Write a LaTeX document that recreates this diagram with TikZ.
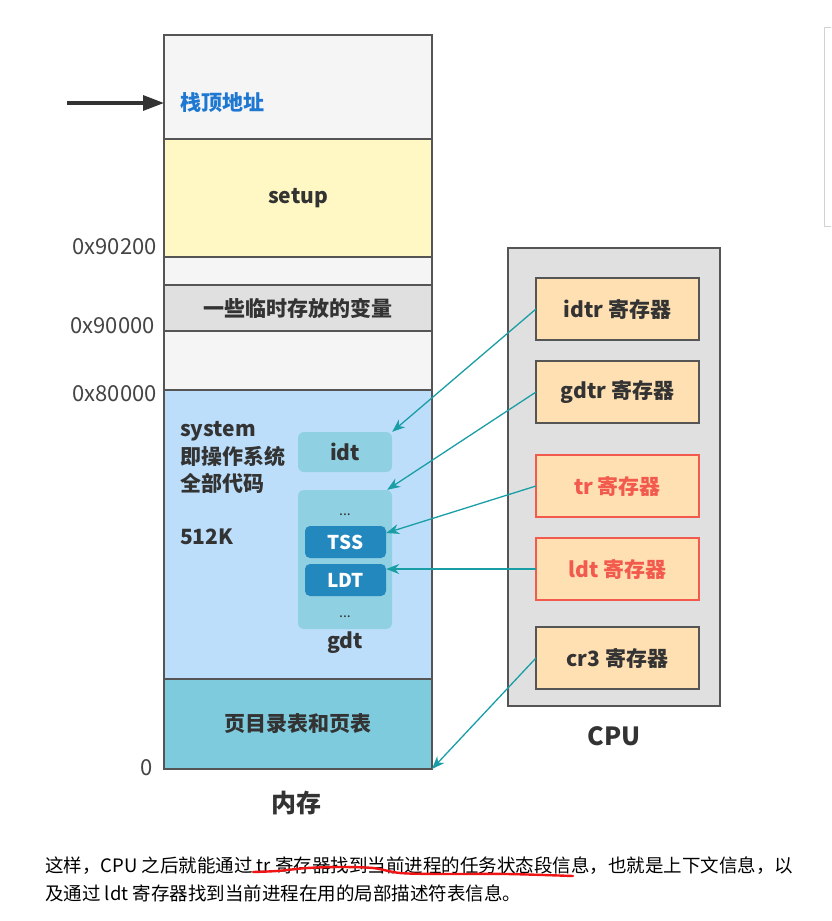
\documentclass[tikz,border=0pt]{standalone}
\usepackage{fontspec}
\setmainfont{Noto Sans CJK SC}
\usetikzlibrary{arrows.meta}
\definecolor{linegray}{HTML}{555555}
\definecolor{txtgray}{HTML}{333333}
\definecolor{addrgray}{HTML}{444444}
\definecolor{stackfill}{HTML}{F5F5F5}
\definecolor{setupfill}{HTML}{FFF8C4}
\definecolor{tempfill}{HTML}{E0E0E0}
\definecolor{sysfill}{HTML}{BCDEFA}
\definecolor{pagefill}{HTML}{7ECBDE}
\definecolor{tblfill}{HTML}{8FD0E3}
\definecolor{entblue}{HTML}{2388BD}
\definecolor{regfill}{HTML}{FFE0B2}
\definecolor{regred}{HTML}{F25A4E}
\definecolor{linkteal}{HTML}{1A9EA6}
\definecolor{spblue}{HTML}{1E78D2}
\definecolor{marker}{HTML}{F01414}
\tikzset{
  mem/.style={draw=linegray, line width=1.5pt, minimum width=268pt, inner sep=0pt, outer sep=0pt,
    font=\bfseries\fontsize{21}{25}\selectfont, text=txtgray},
  reg/.style={draw=linegray, line width=1.5pt, fill=regfill, minimum width=163pt, minimum height=62pt,
    inner sep=0pt, outer sep=0pt, font=\bfseries\fontsize{21}{25}\selectfont, text=txtgray},
  redreg/.style={reg, draw=regred, text=regred},
  tbl/.style={fill=tblfill, rounded corners=6pt, minimum width=94pt, inner sep=0pt},
  ent/.style={fill=entblue, rounded corners=5pt, minimum width=81pt, minimum height=32pt, inner sep=0pt,
    text=white, font=\bfseries\fontsize{19}{23}\selectfont},
  lbl/.style={font=\bfseries\fontsize{21}{25}\selectfont, text=txtgray, inner sep=0pt},
  addr/.style={anchor=east, font=\fontsize{22}{26}\selectfont, text=addrgray, inner sep=0pt},
  link/.style={-{Stealth[length=13pt,width=10pt]}, draw=linkteal, line width=1.3pt},
}
\begin{document}
\begin{tikzpicture}[x=1pt,y=-1pt]
\useasboundingbox[fill=white] (0,0) rectangle (831,921);
% memory column
\node[mem, fill=stackfill, minimum height=104pt] (stack) at (298,87) {};
\node[mem, fill=setupfill, minimum height=118pt] (setup) at (298,198) {setup};
\node[mem, fill=stackfill, minimum height=28pt] (gapa) at (298,271) {};
\node[mem, fill=tempfill, minimum height=46pt] (temp) at (298,308) {一些临时存放的变量};
\node[mem, fill=stackfill, minimum height=59pt] (gapb) at (298,360.5) {};
\node[mem, fill=sysfill, minimum height=289pt] (sys) at (298,534.5) {};
\node[mem, fill=pagefill, minimum height=90pt] (page) at (298,724) {页目录表和页表};
\node[lbl, text=spblue, anchor=west] (sptext) at (180,103) {栈顶地址};
\node[lbl, anchor=west, align=left, font=\bfseries\fontsize{21}{27.5}\selectfont] (systext) at (180,457.5)
  {system\\即操作系统\\全部代码};
\node[lbl, anchor=west] (size) at (180,537) {512K};
\node[lbl, font=\bfseries\fontsize{25}{30}\selectfont] (memname) at (296,803) {内存};
% addresses
\node[addr] (a90200) at (157,247) {0x90200};
\node[addr] (a90000) at (155,326) {0x90000};
\node[addr] (a80000) at (157,394) {0x80000};
\node[addr] (azero) at (153,768) {0};
% descriptor tables
\node[tbl, minimum height=40pt, lbl] (idt) at (345,452) {idt};
\node[tbl, minimum height=139pt] (gdt) at (345,559.5) {};
\node[text=txtgray, font=\fontsize{14}{16}\selectfont, inner sep=0pt] (dotsa) at (345,515) {...};
\node[ent] (tss) at (345.5,542) {TSS};
\node[ent] (ldtd) at (345.5,580) {LDT};
\node[text=txtgray, font=\fontsize{14}{16}\selectfont, inner sep=0pt] (dotsb) at (345,617) {...};
\node[lbl] (gdtname) at (345,643) {gdt};
% cpu
\node[draw=linegray, line width=1.5pt, fill=tempfill, minimum width=212pt, minimum height=458pt, inner sep=0pt] (cpu) at (614,477) {};
\node[lbl, font=\bfseries\fontsize{25}{30}\selectfont] (cpuname) at (614,736) {CPU};
\node[reg] (idtr) at (617.5,309) {idtr 寄存器};
\node[reg] (gdtr) at (617.5,392) {gdtr 寄存器};
\node[redreg] (tr) at (617.5,486) {tr 寄存器};
\node[redreg] (ldtr) at (617.5,569) {ldt 寄存器};
\node[reg] (cr3) at (617.5,658) {cr3 寄存器};
% arrows
\coordinate (spin) at (67,103);
\draw[-{Triangle[length=21pt,width=15pt]}, line width=3.2pt, draw=txtgray] (spin) -- (spin -| stack.west);
\draw[link] (idtr.west) -- (idt.north east);
\draw[link] (gdtr.west) -- ([xshift=-5pt]gdt.north east);
\draw[link] (tr.west) -- ([yshift=9pt]tss.east);
\draw[link] (ldtr.west) -- (ldtr.west -| ldtd.east);
\draw[link] (cr3.west) -- (page.south east);
% note below
\node[anchor=west, inner sep=0pt, font=\fontsize{18.5}{22}\selectfont, text=black] (notea) at (45,866)
  {这样，CPU 之后就能通过 tr 寄存器找到当前进程的任务状态段信息，也就是上下文信息，以};
\node[anchor=west, inner sep=0pt, font=\fontsize{18.5}{22}\selectfont, text=black] (noteb) at (45,893)
  {及通过 ldt 寄存器找到当前进程在用的局部描述符表信息。};
\draw[marker, line width=2.4pt, line cap=round] plot[smooth] coordinates
  {(253,872) (277,871) (307,868) (340,867) (373,868) (400,873) (440,874) (507,874) (573,876)};
\draw[gray!35, line width=1pt] (831,27) -- (824,27) -- (824,226) -- (831,226);
\end{tikzpicture}
\end{document}
